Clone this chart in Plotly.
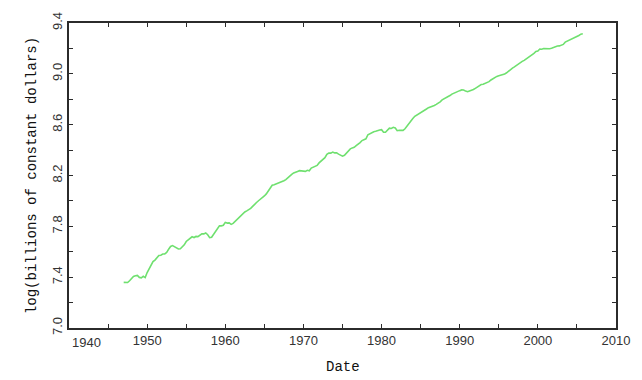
import numpy as np
import plotly.graph_objects as go

# Real GDP, billions of chained 2000 dollars, quarterly 1947Q1-2005Q4
years = list(range(1947, 2006))
gdp_q = [
    [1570, 1569, 1568, 1591],      # 1947
    [1616, 1645, 1654, 1658],      # 1948
    [1633, 1628, 1647, 1630],      # 1949
    [1697, 1747, 1816, 1849],      # 1950
    [1871, 1903, 1941, 1944],      # 1951
    [1962, 1965, 1987, 2039],      # 1952
    [2083, 2098, 2082, 2055],      # 1953
    [2042, 2045, 2073, 2110],      # 1954
    [2166, 2199, 2229, 2248],      # 1955
    [2235, 2254, 2251, 2278],      # 1956
    [2302, 2300, 2317, 2285],      # 1957
    [2233, 2241, 2295, 2348],      # 1958
    [2402, 2452, 2450, 2461],      # 1959
    [2518, 2504, 2508, 2478],      # 1960
    [2497, 2538, 2580, 2625],      # 1961
    [2668, 2704, 2733, 2756],      # 1962
    [2780, 2810, 2856, 2890],      # 1963
    [2945, 2985, 3017, 3048],      # 1964
    [3100, 3150, 3214, 3300],      # 1965
    [3372, 3388, 3405, 3431],      # 1966
    [3453, 3464, 3496, 3526],      # 1967
    [3582, 3641, 3673, 3715],      # 1968
    [3746, 3760, 3782, 3774],      # 1969
    [3756, 3760, 3792, 3780],      # 1970
    [3858, 3883, 3912, 3942],      # 1971
    [4020, 4082, 4128, 4190],      # 1972
    [4302, 4343, 4343, 4378],      # 1973
    [4350, 4349, 4309, 4270],      # 1974
    [4240, 4270, 4340, 4395],      # 1975
    [4490, 4524, 4546, 4604],      # 1976
    [4652, 4715, 4794, 4841],      # 1977
    [4860, 5017, 5064, 5119],      # 1978
    [5140, 5155, 5190, 5208],      # 1979
    [5220, 5120, 5115, 5192],      # 1980
    [5285, 5270, 5320, 5292],      # 1981
    [5180, 5198, 5185, 5194],      # 1982
    [5260, 5380, 5475, 5580],      # 1983
    [5700, 5800, 5850, 5905],      # 1984
    [5960, 6020, 6090, 6145],      # 1985
    [6210, 6235, 6290, 6320],      # 1986
    [6370, 6430, 6500, 6600],      # 1987
    [6650, 6720, 6770, 6830],      # 1988
    [6910, 6965, 7010, 7041],      # 1989
    [7100, 7140, 7135, 7075],      # 1990
    [7040, 7085, 7115, 7162],      # 1991
    [7230, 7300, 7370, 7447],      # 1992
    [7460, 7500, 7550, 7621],      # 1993
    [7720, 7810, 7870, 7942],      # 1994
    [7985, 8005, 8050, 8087],      # 1995
    [8170, 8295, 8370, 8481],      # 1996
    [8560, 8665, 8755, 8834],      # 1997
    [8935, 9010, 9100, 9223],      # 1998
    [9300, 9400, 9520, 9661],      # 1999
    [9696, 9848, 9837, 9888],      # 2000
    [9876, 9906, 9871, 9910],      # 2001
    [9977, 10032, 10091, 10096],   # 2002
    [10126, 10213, 10399, 10467],  # 2003
    [10544, 10634, 10729, 10796],  # 2004
    [10878, 10954, 11074, 11107],  # 2005
]

x_tick_vals = [1940, 1950, 1960, 1970, 1980, 1990, 2000, 2010]
x_tick_text = ["", "1950", "1960", "1970", "1980", "1990", "2000", "2010"]
y_tick_vals = [7.0, 7.4, 7.8, 8.2, 8.6, 9.0, 9.4]
y_tick_text = ["7.0", "7.4", "7.8", "8.2", "8.6", "9.0", "9.4"]

dates = [y + q / 4 for y in years for q in range(4)]
log_gdp = np.log([v for row in gdp_q for v in row])

fig = go.Figure()
fig.add_trace(go.Scatter(
    x=dates, y=log_gdp, mode="lines",
    line=dict(color="#6fe06f", width=1.6),
    showlegend=False, hoverinfo="skip",
))

frame = "#2b2b2b"
tick_font = dict(family="Liberation Sans, Arial, sans-serif", size=13, color="#333")
title_font = dict(family="Liberation Mono, Courier New, monospace", size=14, color="#111")

fig.update_xaxes(
    range=[1940, 2010], tickmode="array", tickvals=x_tick_vals, ticktext=x_tick_text,
    ticks="inside", ticklen=4, tickwidth=1, tickcolor=frame,
    minor=dict(dtick=5, tick0=1940, ticks="inside", ticklen=4, tickwidth=1, tickcolor=frame),
    showline=True, linecolor=frame, linewidth=1.6, mirror="allticks",
    showgrid=False, zeroline=False, tickfont=tick_font,
)
fig.update_yaxes(
    range=[7.0, 9.4], tickmode="array", tickvals=y_tick_vals, ticktext=y_tick_text,
    tickangle=-90,
    ticks="inside", ticklen=4, tickwidth=1, tickcolor=frame,
    minor=dict(dtick=0.2, tick0=7.0, ticks="inside", ticklen=4, tickwidth=1, tickcolor=frame),
    showline=True, linecolor=frame, linewidth=1.6, mirror="allticks",
    showgrid=False, zeroline=False, tickfont=tick_font,
    title=dict(text="log(billions of constant dollars)", font=title_font, standoff=10),
)

# x-axis title, set a little lower than the default title slot
fig.add_annotation(
    x=0.5, y=0, xref="paper", yref="paper", text="Date", showarrow=False,
    xanchor="center", yanchor="middle", yshift=-39, font=title_font,
)

# first date label sits just right of the corner
fig.add_annotation(
    x=1940, y=0, xref="x", yref="paper", text="1940", showarrow=False,
    xanchor="center", yanchor="top", xshift=17, yshift=-5, font=tick_font,
)

fig.update_layout(
    width=642, height=380,
    margin=dict(l=69, r=26, t=15, b=52),
    paper_bgcolor="white", plot_bgcolor="white",
)

fig.write_html("out.html")
